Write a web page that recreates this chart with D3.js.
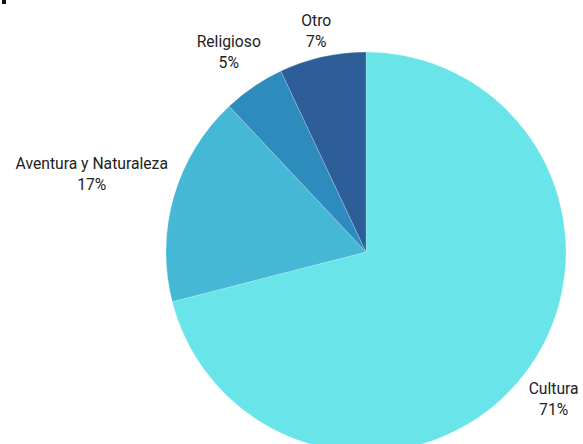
<!DOCTYPE html>
<html>
<head>
<meta charset="utf-8">
<script src="https://cdn.jsdelivr.net/npm/d3@7"></script>
<style>
  html, body { margin: 0; padding: 0; background: #fff; }
  svg { display: block; }
  text { font-family: Roboto, "Noto Sans", sans-serif; font-size: 15.7px; fill: #222; }
</style>
</head>
<body>
<svg id="chart" width="583" height="444"></svg>
<script>
// Travel motive shares
const categories = ["Cultura", "Aventura y Naturaleza", "Religioso", "Otro"];
const values = [71, 17, 5, 7];
const colors = ["#69e4e9", "#45b8d6", "#2e8bbd", "#2d5e98"];

const width = 583, height = 444;
const cx = 366, cy = 252, radius = 200;

const svg = d3.select("#chart");

// small marker at the top-left corner
svg.append("rect").attr("x", 2).attr("y", 0).attr("width", 4).attr("height", 4).attr("fill", "#111");

const g = svg.append("g").attr("transform", `translate(${cx},${cy})`);

const data = categories.map((c, i) => ({ name: c, value: values[i], color: colors[i] }));

const pie = d3.pie().value(d => d.value).sort(null);
const arc = d3.arc().innerRadius(0).outerRadius(radius);
const arcs = pie(data);

g.selectAll("path.slice")
  .data(arcs)
  .join("path")
  .attr("class", "slice")
  .attr("d", arc)
  .attr("fill", d => d.data.color)
  .attr("stroke", "#ffffff")
  .attr("stroke-opacity", 0.4)
  .attr("stroke-width", 0.5);

// Labels: two lines (name + percent) pushed outward along the slice bisector
const total = d3.sum(values);
const labelR = 214, widthFactor = 0.94, lineGap = 21, dropY = 1.5;

const labels = g.selectAll("g.label")
  .data(arcs)
  .join("g")
  .attr("class", "label");

labels.each(function(d) {
  const sel = d3.select(this);
  const t1 = sel.append("text").attr("text-anchor", "middle").attr("dominant-baseline", "central")
    .attr("y", -lineGap / 2 + dropY).text(d.data.name);
  sel.append("text").attr("text-anchor", "middle").attr("dominant-baseline", "central")
    .attr("y", lineGap / 2 + dropY).text(Math.round(d.data.value / total * 100) + "%");
  const w = t1.node().getComputedTextLength();
  const a = (d.startAngle + d.endAngle) / 2;
  const r = labelR + widthFactor * w / 2;
  sel.attr("transform", `translate(${Math.sin(a) * r},${-Math.cos(a) * r})`);
});
</script>
</body>
</html>
